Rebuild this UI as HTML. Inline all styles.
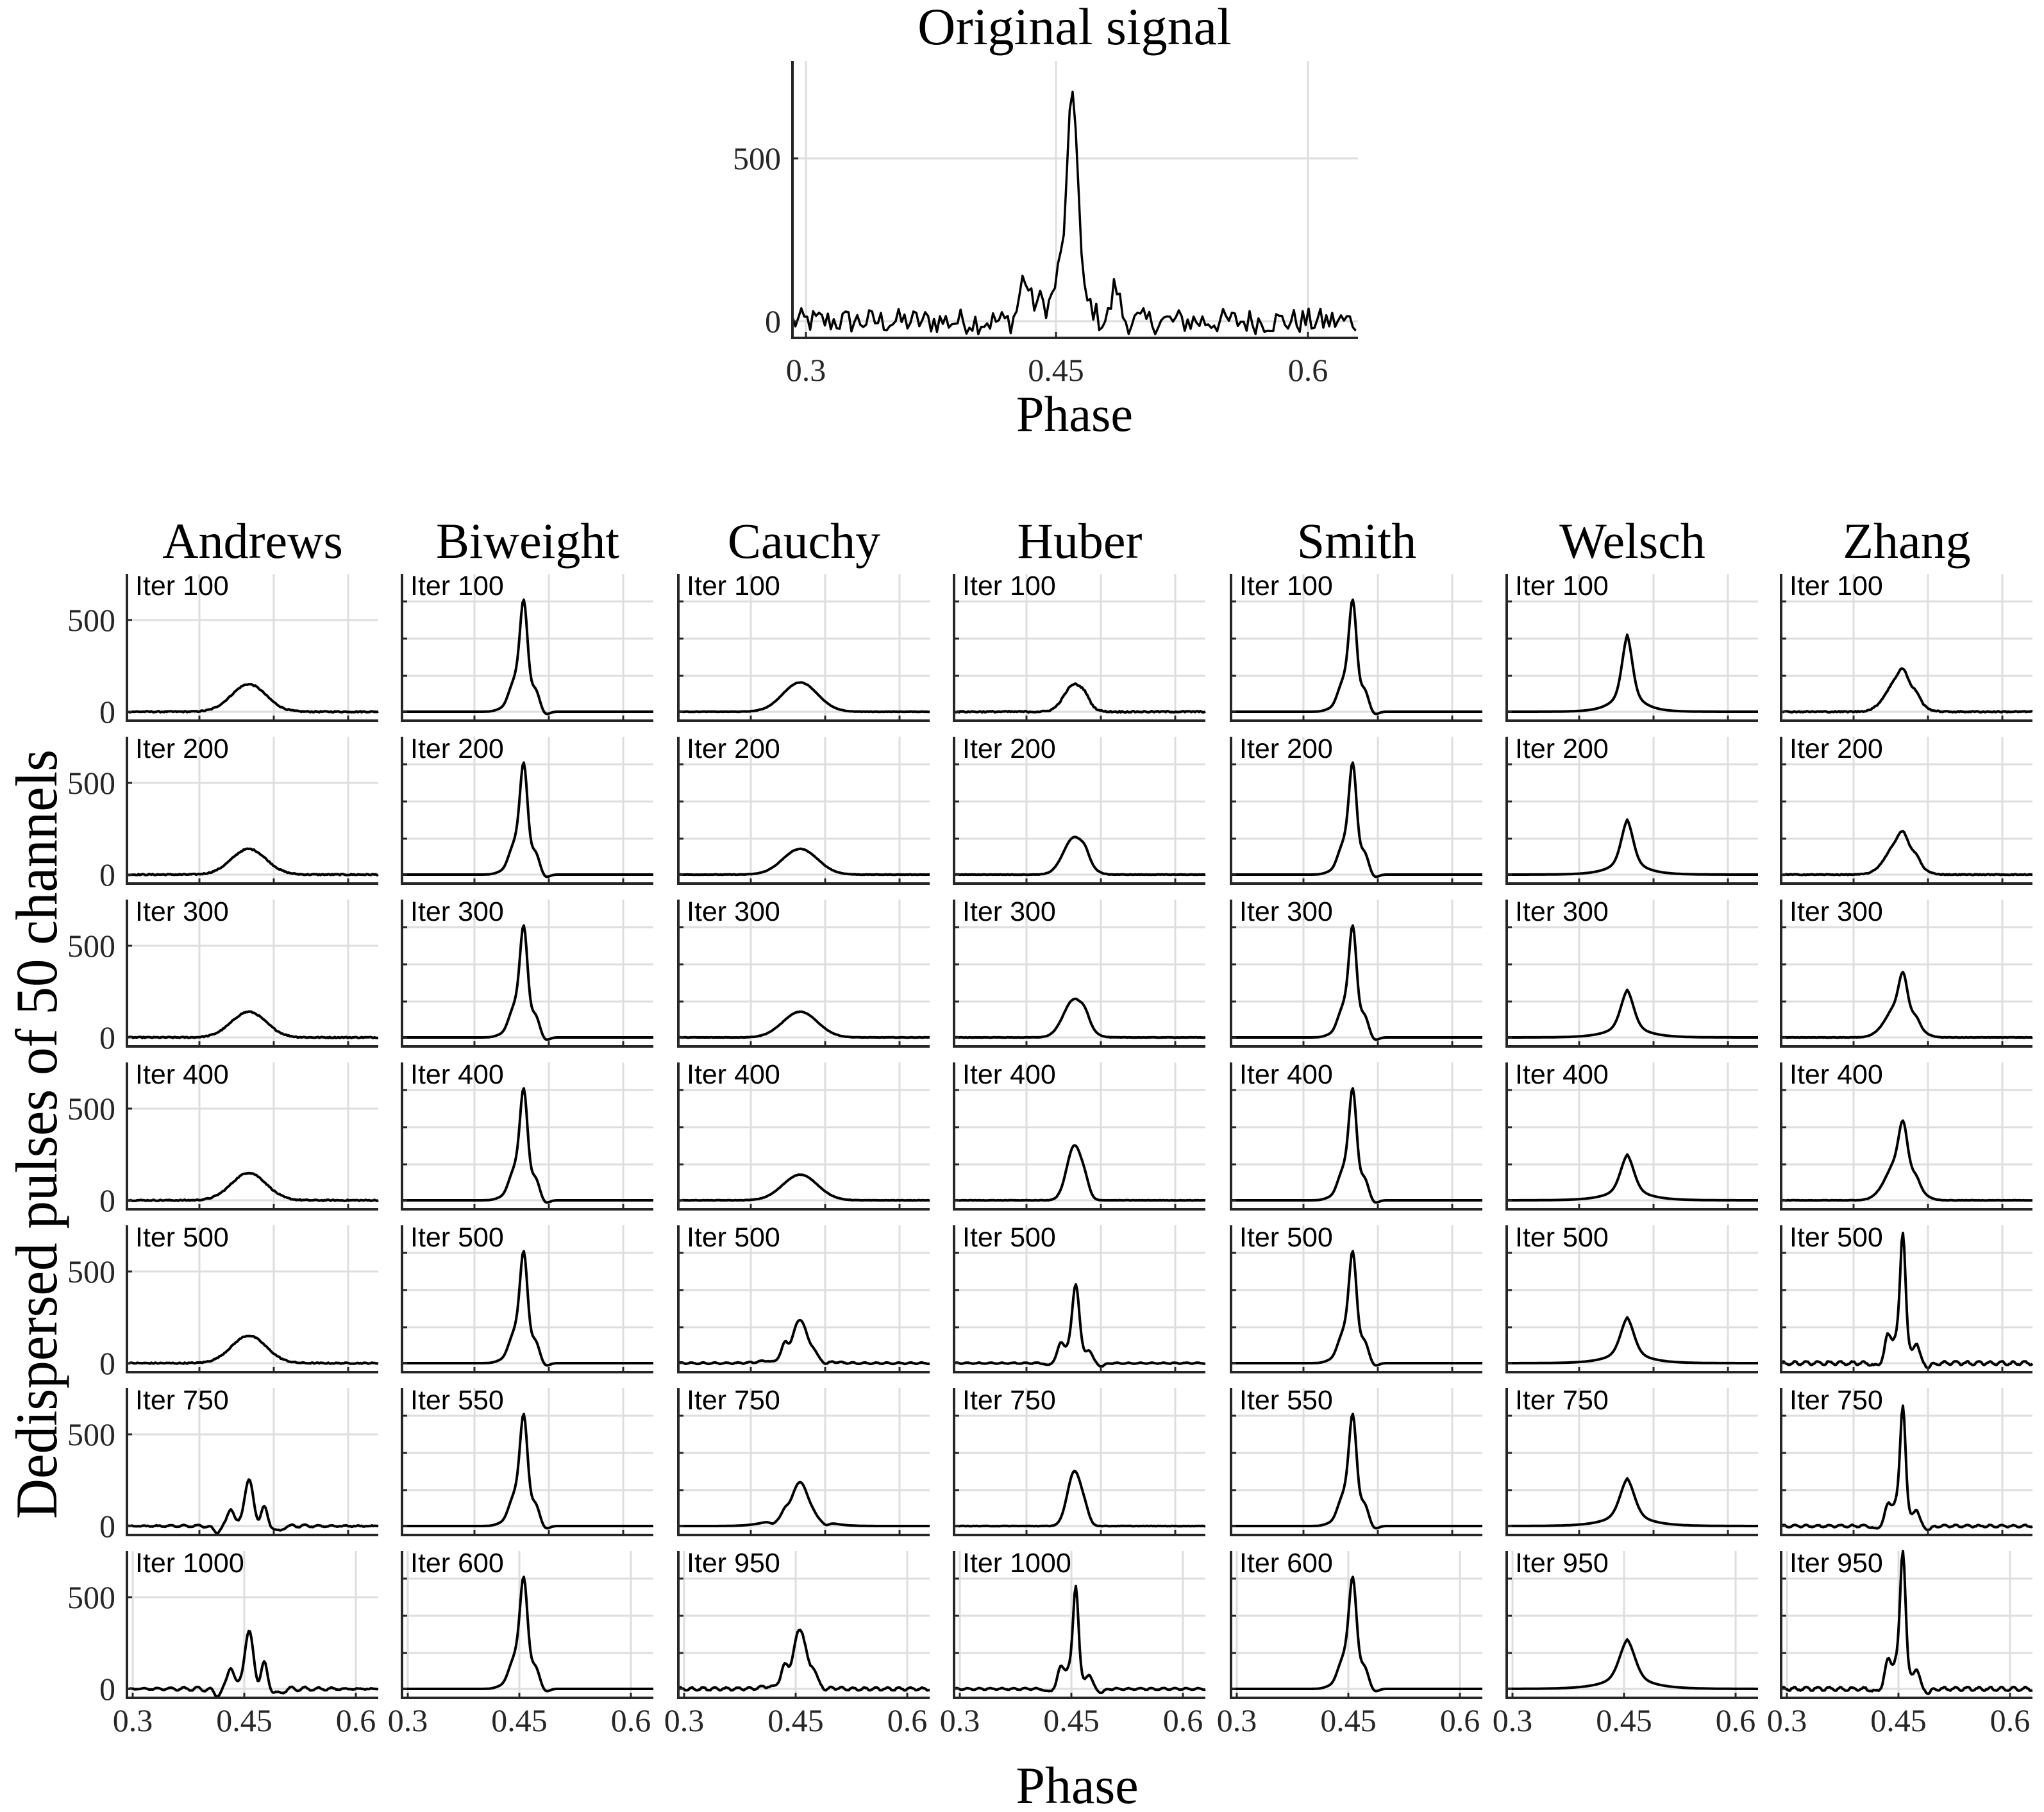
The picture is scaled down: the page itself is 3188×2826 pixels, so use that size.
<!DOCTYPE html>
<html><head><meta charset="utf-8"><style>
html,body{margin:0;padding:0;background:#fff}
svg{display:block}
.t{font-family:"Liberation Serif",serif;fill:#000}
.tk{font-family:"Liberation Serif",serif;fill:#262626;font-size:50px}
.it{font-family:"Liberation Sans",sans-serif;font-size:43px;fill:#000}
</style></head><body>
<svg id="s" width="3188" height="2826" viewBox="0 0 3188 2826" xmlns="http://www.w3.org/2000/svg">
<g id="grid"></g>
<g id="curves" fill="none" stroke="#000" stroke-width="4" stroke-linejoin="round"></g>
<g id="axes"></g>
<text class="t" x="1676" y="69" font-size="82" text-anchor="middle">Original signal</text>
<text class="t" x="1676" y="672" font-size="78" text-anchor="middle">Phase</text>
<text class="tk" x="1218" y="264" text-anchor="end">500</text>
<text class="tk" x="1218" y="518" text-anchor="end">0</text>
<text class="tk" x="1257" y="594" text-anchor="middle">0.3</text>
<text class="tk" x="1647" y="594" text-anchor="middle">0.45</text>
<text class="tk" x="2040" y="594" text-anchor="middle">0.6</text>

<text class="t" x="394" y="870" font-size="78" text-anchor="middle">Andrews</text>
<text class="t" x="823" y="870" font-size="78" text-anchor="middle">Biweight</text>
<text class="t" x="1254" y="870" font-size="78" text-anchor="middle">Cauchy</text>
<text class="t" x="1684" y="870" font-size="78" text-anchor="middle">Huber</text>
<text class="t" x="2116" y="870" font-size="78" text-anchor="middle">Smith</text>
<text class="t" x="2546" y="870" font-size="78" text-anchor="middle">Welsch</text>
<text class="t" x="2974" y="870" font-size="78" text-anchor="middle">Zhang</text>

<text class="t" transform="translate(88,1769) rotate(-90)" font-size="92" text-anchor="middle" textLength="1200" lengthAdjust="spacingAndGlyphs">Dedispersed pulses of 50 channels</text>
<text class="t" x="1680" y="2812" font-size="82" text-anchor="middle">Phase</text>

<text class="tk" x="180" y="984" text-anchor="end">500</text><text class="tk" x="180" y="1127" text-anchor="end">0</text>
<text class="tk" x="180" y="1238" text-anchor="end">500</text><text class="tk" x="180" y="1381" text-anchor="end">0</text>
<text class="tk" x="180" y="1492" text-anchor="end">500</text><text class="tk" x="180" y="1635" text-anchor="end">0</text>
<text class="tk" x="180" y="1746" text-anchor="end">500</text><text class="tk" x="180" y="1889" text-anchor="end">0</text>
<text class="tk" x="180" y="2000" text-anchor="end">500</text><text class="tk" x="180" y="2143" text-anchor="end">0</text>
<text class="tk" x="180" y="2254" text-anchor="end">500</text><text class="tk" x="180" y="2397" text-anchor="end">0</text>
<text class="tk" x="180" y="2508" text-anchor="end">500</text><text class="tk" x="180" y="2651" text-anchor="end">0</text>

<text class="tk" x="207" y="2700" text-anchor="middle">0.3</text><text class="tk" x="381" y="2700" text-anchor="middle">0.45</text><text class="tk" x="555" y="2700" text-anchor="middle">0.6</text>
<text class="tk" x="636" y="2700" text-anchor="middle">0.3</text><text class="tk" x="810" y="2700" text-anchor="middle">0.45</text><text class="tk" x="984" y="2700" text-anchor="middle">0.6</text>
<text class="tk" x="1067" y="2700" text-anchor="middle">0.3</text><text class="tk" x="1241" y="2700" text-anchor="middle">0.45</text><text class="tk" x="1415" y="2700" text-anchor="middle">0.6</text>
<text class="tk" x="1497" y="2700" text-anchor="middle">0.3</text><text class="tk" x="1671" y="2700" text-anchor="middle">0.45</text><text class="tk" x="1845" y="2700" text-anchor="middle">0.6</text>
<text class="tk" x="1929" y="2700" text-anchor="middle">0.3</text><text class="tk" x="2103" y="2700" text-anchor="middle">0.45</text><text class="tk" x="2277" y="2700" text-anchor="middle">0.6</text>
<text class="tk" x="2359" y="2700" text-anchor="middle">0.3</text><text class="tk" x="2533" y="2700" text-anchor="middle">0.45</text><text class="tk" x="2707" y="2700" text-anchor="middle">0.6</text>
<text class="tk" x="2787" y="2700" text-anchor="middle">0.3</text><text class="tk" x="2961" y="2700" text-anchor="middle">0.45</text><text class="tk" x="3135" y="2700" text-anchor="middle">0.6</text>

<g class="it">
<text x="211" y="928">Iter 100</text><text x="211" y="1182">Iter 200</text><text x="211" y="1436">Iter 300</text><text x="211" y="1690">Iter 400</text><text x="211" y="1944">Iter 500</text><text x="211" y="2198">Iter 750</text><text x="211" y="2452">Iter 1000</text>
<text x="640" y="928">Iter 100</text><text x="640" y="1182">Iter 200</text><text x="640" y="1436">Iter 300</text><text x="640" y="1690">Iter 400</text><text x="640" y="1944">Iter 500</text><text x="640" y="2198">Iter 550</text><text x="640" y="2452">Iter 600</text>
<text x="1071" y="928">Iter 100</text><text x="1071" y="1182">Iter 200</text><text x="1071" y="1436">Iter 300</text><text x="1071" y="1690">Iter 400</text><text x="1071" y="1944">Iter 500</text><text x="1071" y="2198">Iter 750</text><text x="1071" y="2452">Iter 950</text>
<text x="1501" y="928">Iter 100</text><text x="1501" y="1182">Iter 200</text><text x="1501" y="1436">Iter 300</text><text x="1501" y="1690">Iter 400</text><text x="1501" y="1944">Iter 500</text><text x="1501" y="2198">Iter 750</text><text x="1501" y="2452">Iter 1000</text>
<text x="1933" y="928">Iter 100</text><text x="1933" y="1182">Iter 200</text><text x="1933" y="1436">Iter 300</text><text x="1933" y="1690">Iter 400</text><text x="1933" y="1944">Iter 500</text><text x="1933" y="2198">Iter 550</text><text x="1933" y="2452">Iter 600</text>
<text x="2363" y="928">Iter 100</text><text x="2363" y="1182">Iter 200</text><text x="2363" y="1436">Iter 300</text><text x="2363" y="1690">Iter 400</text><text x="2363" y="1944">Iter 500</text><text x="2363" y="2198">Iter 750</text><text x="2363" y="2452">Iter 950</text>
<text x="2791" y="928">Iter 100</text><text x="2791" y="1182">Iter 200</text><text x="2791" y="1436">Iter 300</text><text x="2791" y="1690">Iter 400</text><text x="2791" y="1944">Iter 500</text><text x="2791" y="2198">Iter 750</text><text x="2791" y="2452">Iter 950</text>
</g>
</svg>
<script>
(function(){
var NS="http://www.w3.org/2000/svg";
var G=document.getElementById('grid'),C=document.getElementById('curves'),A=document.getElementById('axes');
function el(p,t,a){var e=document.createElementNS(NS,t);for(var k in a)e.setAttribute(k,a[k]);p.appendChild(e);return e;}
function line(p,x1,y1,x2,y2,c,w){el(p,'line',{x1:x1,y1:y1,x2:x2,y2:y2,stroke:c,'stroke-width':w});}
var seed=12345;function rnd(){seed=(seed*1103515245+12345)%2147483648;return seed/2147483648;}
function g(x,c,s){var d=(x-c)/s;return Math.exp(-0.5*d*d);}
var GC="#dedede",AC="#262626";
(function(){
 var L=1236,R=2118,T=95,B=527;
 [1257,1647,2040].forEach(function(x){line(G,x,T,x,B,GC,3);line(A,x,B,x,B-9,AC,3);});
 [247,501].forEach(function(y){line(G,L,y,R,y,GC,3);line(A,L,y,L+9,y,AC,3);});
 var pts=[];
 for(var x=L;x<=R;x+=4.6){
  var v=640*g(x,1674,8)+170*g(x,1657,12)+130*g(x,1597,7)+60*g(x,1620,10)+110*g(x,1740,6)+50*g(x,1700,7)+(rnd()*80-40);
  var y=501-v*0.508; if(y>B)y=B; pts.push(x.toFixed(1)+','+y.toFixed(1));
 }
 el(C,'polyline',{points:pts.join(' '),'stroke-width':3.5});
 line(A,L,T,L,B+2,AC,4);line(A,L,B,R,B,AC,4);
})();
var lefts=[198,627,1058,1488,1920,2350,2778];
function broad(a,n){return function(x){return a*g(x,190,27)+n*(rnd()-0.5);};}
function sharp(a){return function(x){return a*(0.68*g(x,190,5.5)+0.34*g(x,183,15))+75*g(x,209,6)-18*g(x,160,6)-18*g(x,224,6);};}
function welsch(a,w){w=w||1;return function(x){return a*(0.55*g(x,188,8*w)+0.45*Math.exp(-Math.abs(x-188)/(20*w)));};}
function mid(a,s,n){return function(x){return a*g(x,188,s)+0.15*a*g(x,205,6)+(n||0)*(rnd()-0.5);};}
function zmid(a,k,n){return function(x){return a*(k*g(x,190,6)+(1-k)*g(x,186,20))+25*g(x,212,5)+(n||0)*(rnd()-0.5);};}
function spiky(a,w,b1,b2,n){return function(x){return a*(0.78*g(x,190,4*w)+0.22*g(x,184,12*w))+b1*g(x,166,4.5)+b2*g(x,211,4.5)-18*g(x,148,5)-18*g(x,230,5)+(n||0)*Math.sin(x*0.35+rnd())*1;};}
function multi(a,b1,b2,n){return function(x){return a*g(x,190,7)+b1*g(x,162,5)+b2*g(x,214,5)-30*g(x,140,6)-30*g(x,236,6)+n*Math.sin(x*0.3)*g(x,190,90)+4*(rnd()-0.5);};}
var P=[
 [broad(150,6),broad(140,6),broad(140,6),broad(150,6),broad(150,6),multi(250,100,100,10),multi(310,125,135,16)],
 [sharp(620),sharp(620),sharp(620),sharp(620),sharp(620),sharp(620),sharp(620)],
 [broad(160,2),broad(140,2),broad(140,2),broad(140,2),spiky(240,2.5,60,30,4),spiky(240,3,30,10,0),spiky(330,2.2,70,60,8)],
 [mid(150,16,7),mid(205,17,2),mid(210,17,2),mid(300,12,2),spiky(440,1.3,60,50,3),mid(300,11,2),spiky(580,1,80,70,5)],
 [sharp(620),sharp(620),sharp(620),sharp(620),sharp(620),sharp(620),sharp(620)],
 [welsch(420),welsch(300,1.15),welsch(260,1.25),welsch(250,1.3),welsch(250,1.3),welsch(260,1.4),welsch(270,1.5)],
 [zmid(240,0.2,6),zmid(240,0.2,4),zmid(360,0.45,2),zmid(440,0.45,2),spiky(740,1,100,100,10),spiky(680,1,70,80,6),spiky(780,1,100,100,10)]
];
for(var c=0;c<7;c++){for(var r=0;r<7;r++){
 var L=lefts[c],T=895+254*r,W=392,B=T+229,Z=T+215;
 var last=(r==6);
 var vx=last?[9,183,357]:[113,229,345];
 vx.forEach(function(o){line(G,L+o,T,L+o,B,GC,3);line(A,L+o,B,L+o,B-8,AC,3);});
 var hy=(c==0)?[72,215]:[43,101,159,215];
 hy.forEach(function(o){line(G,L,T+o,L+W,T+o,GC,3);line(A,L,T+o,L+8,T+o,AC,3);});
 var f=P[c][r],pts=[];
 for(var x=2;x<=W;x+=2){var v=f(x);var y=Z-v/3.5;if(y<T)y=T;if(y>B-2)y=B-2;pts.push((L+x)+','+y.toFixed(1));}
 el(C,'polyline',{points:pts.join(' ')});
 line(A,L,T,L,B+2,AC,4);line(A,L,B,L+W,B,AC,4);
}}
})();
</script>
</body></html>
